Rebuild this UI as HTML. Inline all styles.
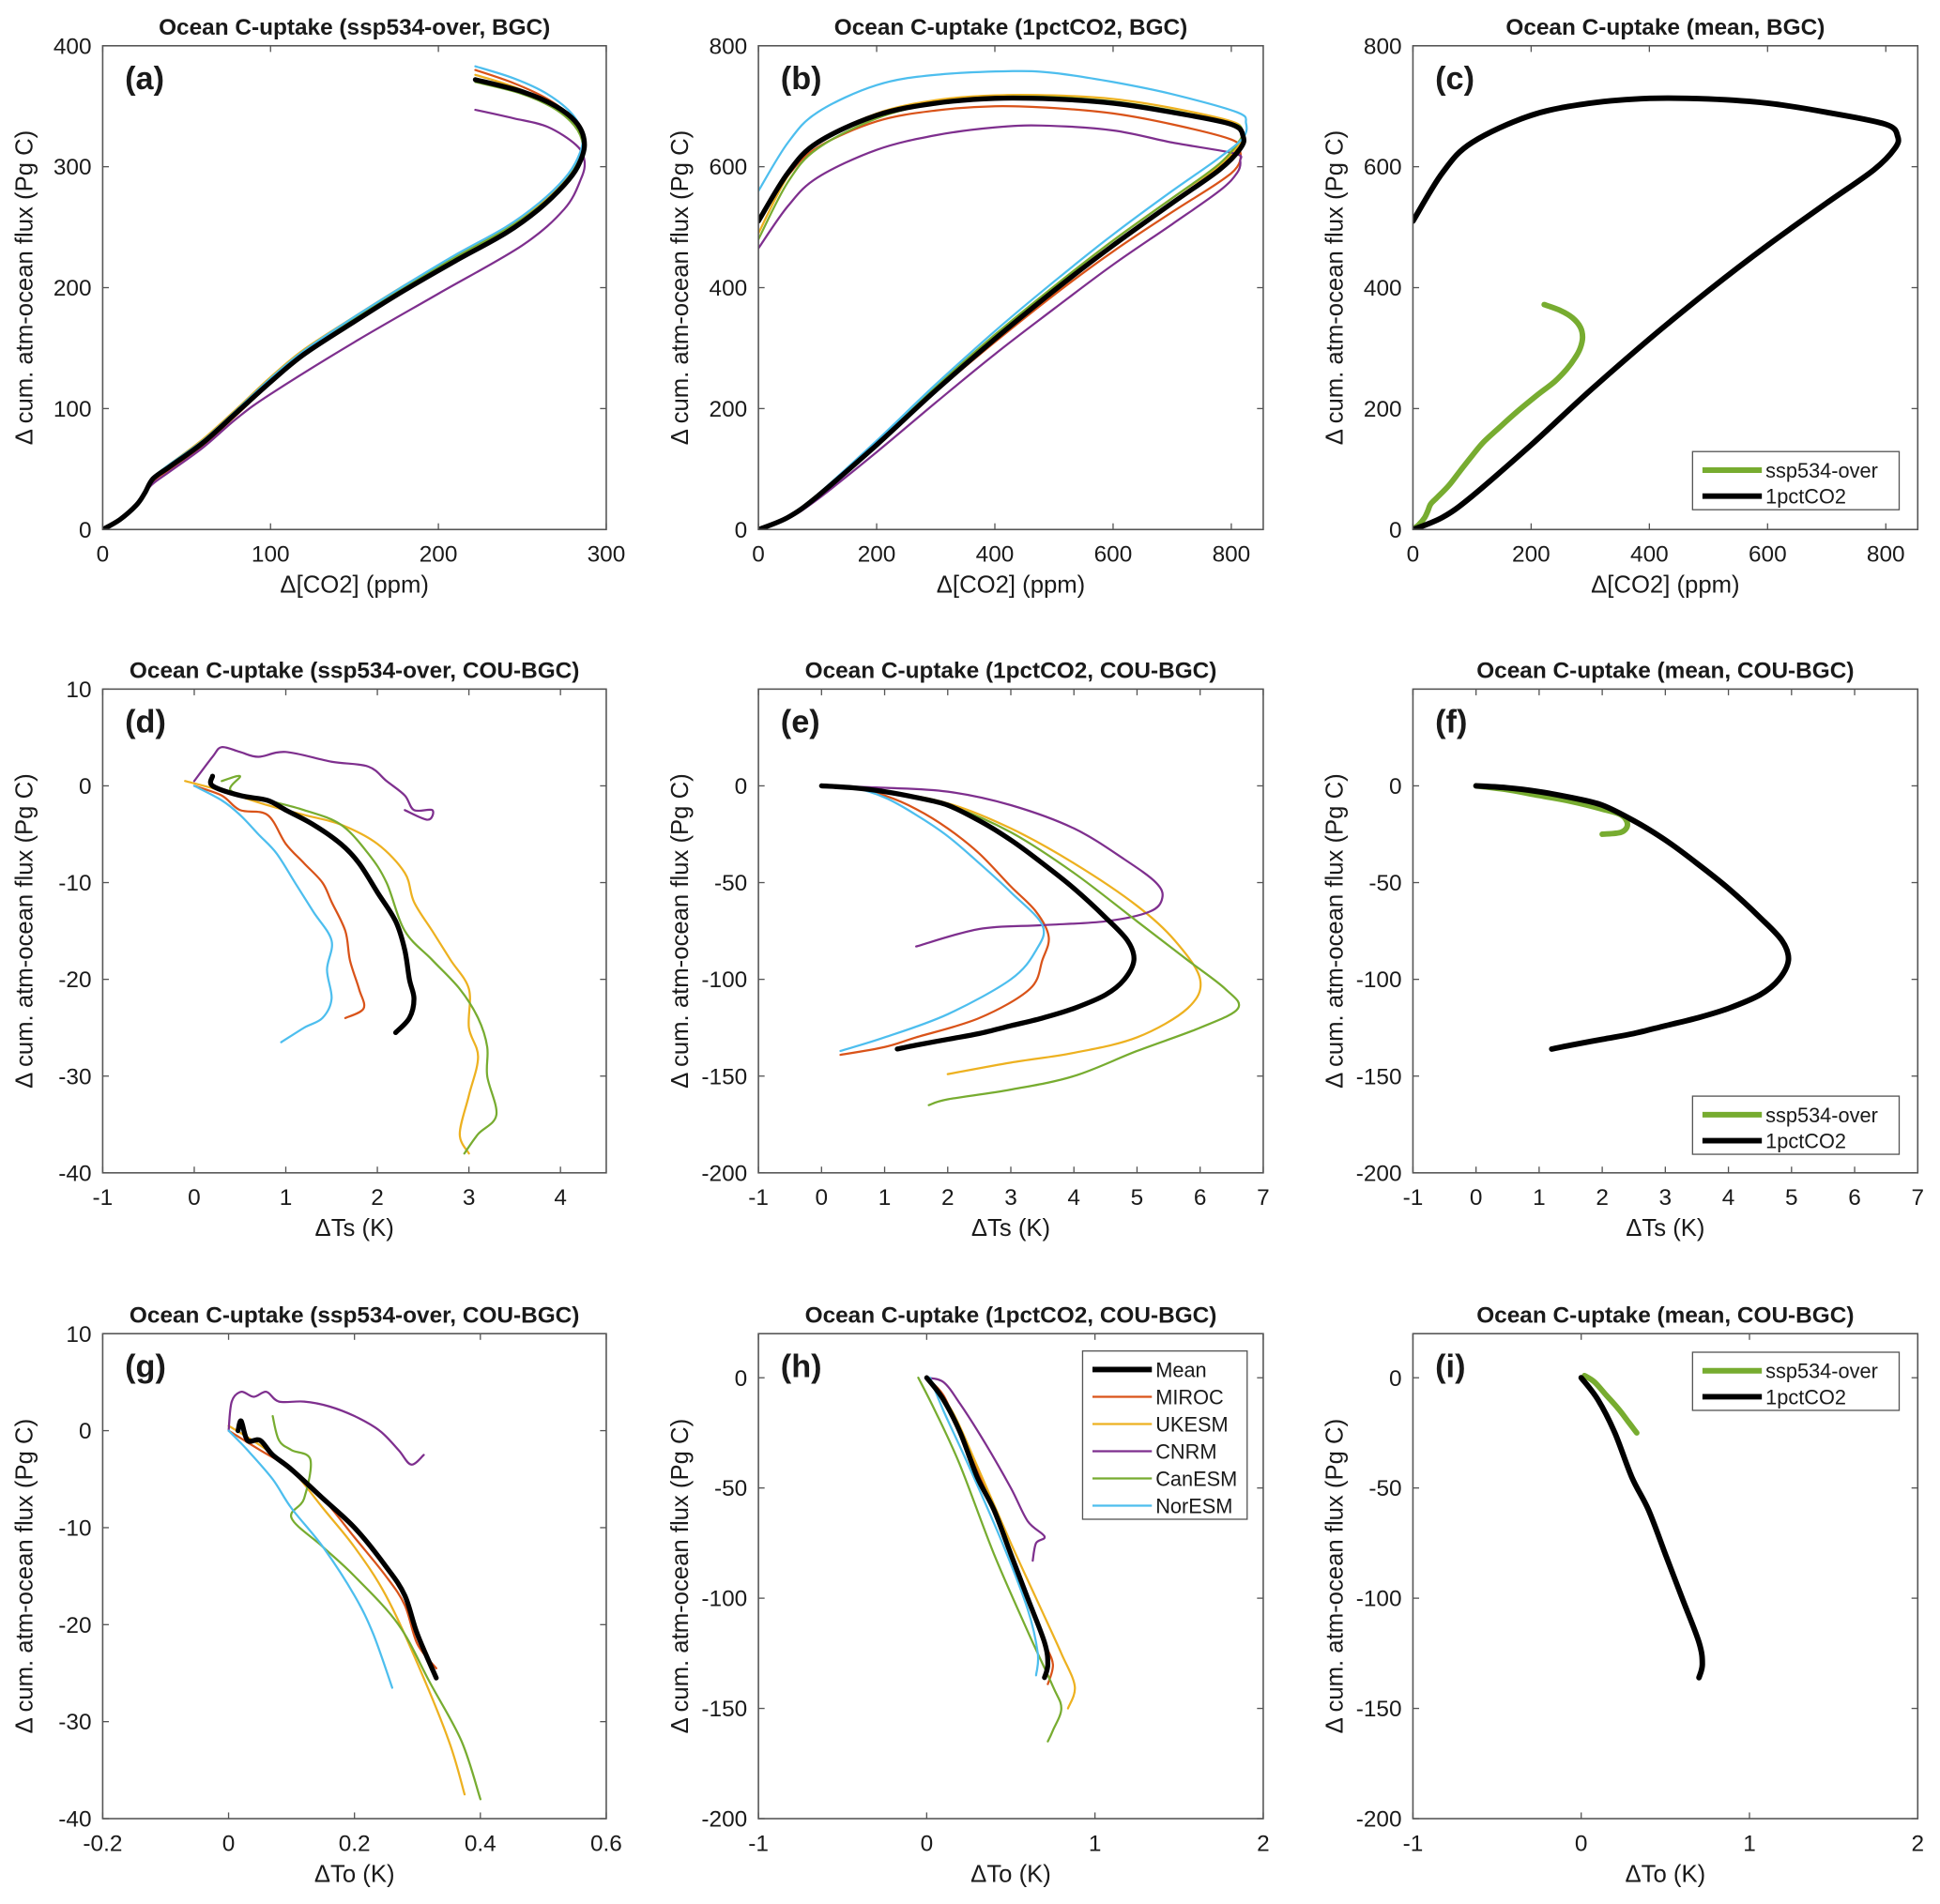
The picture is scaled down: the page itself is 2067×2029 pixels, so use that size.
<!DOCTYPE html>
<html><head><meta charset="utf-8"><style>
html,body{margin:0;padding:0;background:#fff}
svg{display:block}
text{font-family:"Liberation Sans",Arial,sans-serif;fill:#1a1a1a}
</style></head><body>
<svg id="fig" width="2067" height="2029" viewBox="0 0 1568 1539" preserveAspectRatio="none" xmlns="http://www.w3.org/2000/svg"></svg>
<script>
// ---- data (x,y pairs in data units) ----
const A_MEAN=[[0,0],[10,8],[20,20],[25,30],[30,42],[40,52],[60,72],[80,97],[100,122],[120,145],[150,172],[180,198],[210,222],[240,245],[260,265],[275,285],[283,300],[287,318],[283,335],[270,350],[250,362],[222,372]];
const A_MIROC=[[0,0],[10,8],[20,20],[25,30],[30,40],[40,50],[60,70],[80,95],[100,121],[120,144],[150,172],[180,199],[210,224],[240,248],[260,268],[275,288],[283,305],[286,322],[280,340],[265,356],[245,369],[222,380]];
const A_UKESM=[[0,0],[10,8],[20,20],[25,31],[30,43],[40,54],[60,75],[80,100],[100,126],[120,149],[150,176],[180,202],[210,226],[240,249],[260,268],[275,288],[283,305],[286,322],[280,338],[265,353],[245,366],[222,376]];
const A_CNRM=[[0,0],[10,8],[20,20],[25,30],[30,38],[40,48],[60,68],[80,92],[100,112],[150,155],[200,195],[250,235],[275,265],[285,290],[287,305],[282,318],[265,333],[245,340],[222,347]];
const A_CAN=[[0,0],[10,8],[20,20],[25,31],[30,43],[40,54],[60,74],[80,99],[100,125],[120,148],[150,175],[180,201],[210,225],[240,248],[260,267],[275,287],[283,303],[286,318],[281,334],[268,349],[248,361],[222,370]];
const A_NOR=[[0,0],[10,8],[20,20],[25,31],[30,43],[40,54],[60,74],[80,99],[100,125],[120,148],[150,176],[180,202],[210,227],[240,250],[260,270],[275,290],[283,307],[286,325],[280,343],[265,360],[245,373],[222,383]];

const B_MEAN=[[0,0],[50,20],[100,55],[200,140],[300,230],[400,315],[500,395],[600,470],[700,540],[780,595],[815,630],[820,650],[800,670],[700,690],[600,705],[500,712],[400,713],[300,705],[200,685],[100,640],[50,590],[0,510]];
const B_MIROC=[[0,0],[50,20],[100,55],[200,140],[300,228],[400,310],[500,388],[600,460],[700,525],[780,575],[810,600],[815,625],[800,645],[700,670],[600,688],[500,697],[400,700],[300,693],[200,675],[100,632],[50,585],[0,510]];
const B_UKESM=[[0,0],[50,22],[100,58],[200,145],[300,236],[400,322],[500,402],[600,478],[700,548],[780,602],[815,640],[818,660],[800,675],[700,697],[600,712],[500,718],[400,718],[300,710],[200,688],[100,640],[50,585],[0,490]];
const B_CNRM=[[0,0],[50,18],[100,50],[200,128],[300,210],[400,290],[500,365],[600,438],[700,505],[780,560],[810,590],[815,610],[805,622],[700,640],[600,660],[480,668],[400,665],[300,652],[200,628],[100,582],[50,535],[0,465]];
const B_CAN=[[0,0],[50,22],[100,58],[200,145],[300,236],[400,322],[500,402],[600,478],[700,548],[780,605],[815,645],[818,662],[800,672],[700,693],[600,708],[500,715],[400,715],[300,705],[200,680],[100,630],[50,575],[0,480]];
const B_NOR=[[0,0],[50,22],[100,58],[200,147],[300,240],[400,328],[500,410],[600,488],[700,560],[780,615],[820,648],[825,672],[810,690],[700,720],[600,740],[500,755],[430,758],[300,752],[200,735],[100,690],[50,640],[0,560]];

const D_MEAN=[[0.2,1],[0.2,0],[0.5,-1],[0.8,-1.5],[1.0,-2.5],[1.3,-4],[1.6,-6],[1.8,-8],[2.0,-11],[2.2,-14],[2.3,-17],[2.35,-20],[2.4,-22],[2.35,-24],[2.2,-25.5]];
const D_MIROC=[[0,0],[0.3,-1],[0.5,-2.5],[0.8,-3],[1.0,-6],[1.2,-8],[1.4,-10],[1.5,-12],[1.65,-15],[1.7,-18],[1.8,-21],[1.85,-23],[1.65,-24]];
const D_UKESM=[[-0.1,0.5],[0.3,-0.5],[0.8,-2],[1.2,-3],[1.6,-4],[2.0,-6],[2.3,-9],[2.4,-12],[2.6,-15],[2.8,-18],[3.0,-21],[3.0,-25],[3.1,-28],[3.0,-32],[2.9,-36],[3.0,-38]];
const D_CNRM=[[0,0.5],[0.2,3],[0.3,4],[0.5,3.5],[0.7,3],[1.0,3.5],[1.5,2.5],[1.9,2],[2.1,0.5],[2.3,-1],[2.4,-2.5],[2.6,-2.5],[2.55,-3.5],[2.3,-2.5]];
const D_CAN=[[0.3,0.5],[0.5,1],[0.4,-0.5],[0.8,-1.5],[1.2,-2.5],[1.6,-4],[1.9,-7],[2.1,-10],[2.3,-15],[2.6,-18],[2.9,-21],[3.1,-24],[3.2,-27],[3.2,-30],[3.3,-34],[3.1,-36],[2.95,-38]];
const D_NOR=[[0,0],[0.3,-1.5],[0.5,-3],[0.7,-5],[0.9,-7],[1.1,-10],[1.3,-13],[1.5,-16],[1.45,-19],[1.5,-22],[1.4,-24],[1.2,-25],[0.95,-26.5]];

const E_MEAN=[[0,0],[0.5,-1],[1,-3],[1.5,-6],[2,-10],[2.5,-18],[3,-28],[3.5,-40],[4,-53],[4.5,-68],[4.85,-80],[4.95,-90],[4.8,-100],[4.5,-108],[4,-115],[3.5,-120],[3,-124],[2.5,-128],[2,-131],[1.5,-134],[1.2,-136]];
const E_MIROC=[[0,0],[0.5,-1],[1,-5],[1.5,-12],[2,-22],[2.5,-35],[3,-52],[3.4,-65],[3.6,-78],[3.5,-90],[3.3,-105],[2.5,-120],[1.5,-130],[1,-135],[0.3,-139]];
const E_UKESM=[[0,0],[1,-3],[2,-9],[3,-22],[4,-40],[5,-62],[5.6,-80],[6,-100],[5.8,-115],[5,-130],[4,-138],[3,-143],[2,-149]];
const E_CNRM=[[0,0],[1,-1],[2,-3],[3,-10],[4,-22],[4.8,-38],[5.3,-50],[5.4,-58],[5.2,-65],[4.5,-70],[3.5,-72],[2.5,-74],[1.5,-83]];
const E_CAN=[[0,0],[1,-3],[2,-10],[3,-24],[4,-45],[5,-70],[5.8,-90],[6.4,-105],[6.6,-115],[6,-125],[5,-137],[4,-150],[3,-157],[2,-162],[1.7,-165]];
const E_NOR=[[0,0],[0.5,-1],[1,-6],[1.5,-15],[2,-26],[2.5,-40],[3,-55],[3.5,-72],[3.4,-85],[3.0,-100],[2,-118],[1,-130],[0.3,-137]];
const F_SSP=[[0,0],[0.5,-2],[1,-5],[1.5,-8],[2,-12],[2.3,-15],[2.4,-20],[2.3,-24],[2.0,-25]];

const G_MEAN=[[0.015,0],[0.02,1],[0.03,-1],[0.05,-1],[0.07,-2.5],[0.1,-4],[0.15,-7],[0.2,-10],[0.25,-14],[0.28,-17],[0.3,-21],[0.33,-25.5]];
const G_MIROC=[[0,0],[0.05,-2],[0.1,-4],[0.15,-7],[0.2,-11],[0.25,-15],[0.28,-18],[0.3,-22],[0.33,-24.5]];
const G_UKESM=[[0,0.5],[0.05,-1.5],[0.1,-4],[0.15,-8],[0.2,-12],[0.25,-17],[0.3,-24],[0.35,-32],[0.375,-37.5]];
const G_CNRM=[[0,0],[0.005,3],[0.02,4],[0.04,3.5],[0.06,4],[0.08,3],[0.12,3],[0.16,2.5],[0.2,1.5],[0.24,0],[0.27,-2],[0.29,-3.5],[0.31,-2.5]];
const G_CAN=[[0.07,1.5],[0.08,-1],[0.1,-2],[0.13,-3],[0.12,-7],[0.1,-9],[0.15,-12],[0.2,-15],[0.27,-20],[0.32,-26],[0.37,-32],[0.4,-38]];
const G_NOR=[[0,0],[0.03,-2],[0.07,-5],[0.1,-8],[0.15,-12],[0.2,-17],[0.23,-21],[0.26,-26.5]];

const H_MEAN=[[0,0],[0.1,-10],[0.2,-25],[0.3,-45],[0.4,-60],[0.5,-80],[0.6,-100],[0.7,-120],[0.72,-130],[0.7,-136]];
const H_MIROC=[[0,0],[0.1,-8],[0.2,-25],[0.35,-50],[0.5,-80],[0.6,-100],[0.7,-120],[0.75,-130],[0.72,-139]];
const H_UKESM=[[0,0],[0.15,-15],[0.3,-40],[0.5,-75],[0.65,-100],[0.8,-125],[0.88,-140],[0.84,-150]];
const H_CNRM=[[0,0],[0.1,-2],[0.2,-12],[0.35,-30],[0.5,-50],[0.6,-65],[0.7,-72],[0.65,-75],[0.63,-83]];
const H_CAN=[[-0.05,0],[0.05,-15],[0.2,-40],[0.4,-80],[0.6,-115],[0.75,-140],[0.8,-150],[0.75,-160],[0.72,-165]];
const H_NOR=[[0.02,0],[0.1,-15],[0.25,-40],[0.45,-75],[0.6,-105],[0.66,-125],[0.65,-135]];
const I_SSP=[[0.02,1],[0.08,-2],[0.15,-8],[0.22,-14],[0.28,-20],[0.33,-25]];

const MODEL_NAMES=["Mean","MIROC","UKESM","CNRM","CanESM","NorESM"];
const MEAN_LEGEND=["ssp534-over","1pctCO2"];

const COL={mean:"#000",miroc:"#D95319",ukesm:"#EDB120",cnrm:"#7E2F8E",can:"#77AC30",nor:"#4DBEEE"};
const NS="http://www.w3.org/2000/svg";
const svg=document.getElementById('fig');
function mk(tag,attrs,parent){const e=document.createElementNS(NS,tag);for(const k in attrs)e.setAttribute(k,attrs[k]);(parent||svg).appendChild(e);return e;}
function smoothPath(pts){
  let d='M'+pts[0][0].toFixed(1)+','+pts[0][1].toFixed(1);
  for(let i=0;i<pts.length-1;i++){
    const p0=pts[Math.max(0,i-1)],p1=pts[i],p2=pts[i+1],p3=pts[Math.min(pts.length-1,i+2)];
    const c1=[p1[0]+(p2[0]-p0[0])/6,p1[1]+(p2[1]-p0[1])/6],c2=[p2[0]-(p3[0]-p1[0])/6,p2[1]-(p3[1]-p1[1])/6];
    d+=` C${c1[0].toFixed(1)},${c1[1].toFixed(1)} ${c2[0].toFixed(1)},${c2[1].toFixed(1)} ${p2[0].toFixed(1)},${p2[1].toFixed(1)}`;
  }
  return d;
}

const COLS=[[83,490],[613,1021],[1142,1550]];
const ROWS=[[37,428],[557,948],[1078,1470]];

function panel(id,ci,ri,xr,yr,xt,yt,title,xlabel,series,legend){
  const [L,R]=COLS[ci],[T,B]=ROWS[ri];
  const g=mk('g',{});
  
  
  const sx=v=>L+(v-xr[0])/(xr[1]-xr[0])*(R-L);
  const sy=v=>B-(v-yr[0])/(yr[1]-yr[0])*(B-T);
  const cp=mk('clipPath',{id:'c'+id},g);mk('rect',{x:L,y:T,width:R-L,height:B-T},cp);
  const tt=mk('text',{x:(L+R)/2,y:T-9,'text-anchor':'middle','font-size':18.5,'font-weight':'bold'},g);tt.textContent=title;
  
  
  xt.forEach(v=>{const x=sx(v);mk('line',{x1:x,x2:x,y1:B,y2:B-5,stroke:'#555'},g);mk('line',{x1:x,x2:x,y1:T,y2:T+5,stroke:'#555'},g);
    const t=mk('text',{x:x,y:B+26,'text-anchor':'middle','font-size':18.5},g);t.textContent=String(v);
    
    });
  yt.forEach(v=>{const y=sy(v);mk('line',{x1:L,x2:L+5,y1:y,y2:y,stroke:'#555'},g);mk('line',{x1:R,x2:R-5,y1:y,y2:y,stroke:'#555'},g);
    const t=mk('text',{x:L-9,y:y+6.5,'text-anchor':'end','font-size':18.5},g);t.textContent=String(v);
    
    });
  const xl=mk('text',{x:(L+R)/2,y:B+51,'text-anchor':'middle','font-size':19.5},g);xl.textContent=xlabel;
  
  
  const yl=mk('text',{x:0,y:0,'text-anchor':'middle','font-size':19.5,transform:`translate(${L-57},${(T+B)/2}) rotate(-90)`},g);yl.textContent="\u0394 cum. atm-ocean flux (Pg C)";
  
  
  series.forEach(s=>{
    const pts=s.d.map(q=>[sx(q[0]),sy(q[1])]);
    const p=mk('path',{d:smoothPath(pts),fill:'none',stroke:s.c,'stroke-width':s.w,'stroke-linejoin':'round','stroke-linecap':'round','clip-path':`url(#c${id})`},g);
    
    
  });
  mk('rect',{x:L,y:T,width:R-L,height:B-T,fill:'none',stroke:'#555','stroke-width':1.2},g);
  const lb=mk('text',{x:L+18,y:T+35,'font-size':26,'font-weight':'bold'},g);lb.textContent='('+id+')';
  
  
  if(legend){
    const lg=mk('g',{},g);
    
    
    mk('rect',{x:legend.x,y:legend.y,width:legend.w,height:legend.h,fill:'#fff',stroke:'#555','stroke-width':1},lg);
    legend.items.forEach((it,i)=>{
      const y=legend.y+15+i*legend.dy;
      mk('line',{x1:legend.x+8,x2:legend.x+56,y1:y,y2:y,stroke:it.c,'stroke-width':it.w},lg);
      const t=mk('text',{x:legend.x+59,y:y+6,'font-size':16.5},lg);t.textContent=it.n;
      
      
    });
  }
}
function models(m,mi,uk,cn,ca,no){return [
  {d:mi,c:COL.miroc,w:1.7,n:'miroc'},{d:uk,c:COL.ukesm,w:1.7,n:'ukesm'},{d:cn,c:COL.cnrm,w:1.7,n:'cnrm'},
  {d:ca,c:COL.can,w:1.7,n:'canesm'},{d:no,c:COL.nor,w:1.7,n:'noresm'},{d:m,c:COL.mean,w:4,n:'mean'}];}
function meanLeg(y){return {x:1368,y:y,w:167,h:47,dy:21,items:[{n:MEAN_LEGEND[0],c:COL.can,w:4.5},{n:MEAN_LEGEND[1],c:'#000',w:4.5}]};}

const XCO2="\u0394[CO2] (ppm)",XTS="\u0394Ts (K)",XTO="\u0394To (K)";
panel('a',0,0,[0,300],[0,400],[0,100,200,300],[0,100,200,300,400],'Ocean C-uptake (ssp534-over, BGC)',XCO2,models(A_MEAN,A_MIROC,A_UKESM,A_CNRM,A_CAN,A_NOR));
panel('b',1,0,[0,854],[0,800],[0,200,400,600,800],[0,200,400,600,800],'Ocean C-uptake (1pctCO2, BGC)',XCO2,models(B_MEAN,B_MIROC,B_UKESM,B_CNRM,B_CAN,B_NOR));
panel('c',2,0,[0,854],[0,800],[0,200,400,600,800],[0,200,400,600,800],'Ocean C-uptake (mean, BGC)',XCO2,[{d:A_MEAN,c:COL.can,w:4.5,n:'ssp534-over'},{d:B_MEAN,c:'#000',w:4.5,n:'1pctco2'}],meanLeg(365));
panel('d',0,1,[-1,4.5],[-40,10],[-1,0,1,2,3,4],[-40,-30,-20,-10,0,10],'Ocean C-uptake (ssp534-over, COU-BGC)',XTS,models(D_MEAN,D_MIROC,D_UKESM,D_CNRM,D_CAN,D_NOR));
panel('e',1,1,[-1,7],[-200,50],[-1,0,1,2,3,4,5,6,7],[-200,-150,-100,-50,0],'Ocean C-uptake (1pctCO2, COU-BGC)',XTS,models(E_MEAN,E_MIROC,E_UKESM,E_CNRM,E_CAN,E_NOR));
panel('f',2,1,[-1,7],[-200,50],[-1,0,1,2,3,4,5,6,7],[-200,-150,-100,-50,0],'Ocean C-uptake (mean, COU-BGC)',XTS,[{d:F_SSP,c:COL.can,w:4.5,n:'ssp534-over'},{d:E_MEAN,c:'#000',w:4.5,n:'1pctco2'}],meanLeg(886));
panel('g',0,2,[-0.2,0.6],[-40,10],[-0.2,0,0.2,0.4,0.6],[-40,-30,-20,-10,0,10],'Ocean C-uptake (ssp534-over, COU-BGC)',XTO,models(G_MEAN,G_MIROC,G_UKESM,G_CNRM,G_CAN,G_NOR));
panel('h',1,2,[-1,2],[-200,20],[-1,0,1,2],[-200,-150,-100,-50,0],'Ocean C-uptake (1pctCO2, COU-BGC)',XTO,models(H_MEAN,H_MIROC,H_UKESM,H_CNRM,H_CAN,H_NOR),
  {x:875,y:1092,w:133,h:136,dy:22,items:[{n:MODEL_NAMES[0],c:'#000',w:4.5},{n:MODEL_NAMES[1],c:COL.miroc,w:1.7},{n:MODEL_NAMES[2],c:COL.ukesm,w:1.7},{n:MODEL_NAMES[3],c:COL.cnrm,w:1.7},{n:MODEL_NAMES[4],c:COL.can,w:1.7},{n:MODEL_NAMES[5],c:COL.nor,w:1.7}]});
panel('i',2,2,[-1,2],[-200,20],[-1,0,1,2],[-200,-150,-100,-50,0],'Ocean C-uptake (mean, COU-BGC)',XTO,[{d:I_SSP,c:COL.can,w:4.5,n:'ssp534-over'},{d:H_MEAN,c:'#000',w:4.5,n:'1pctco2'}],meanLeg(1093));
</script>
</body></html>
